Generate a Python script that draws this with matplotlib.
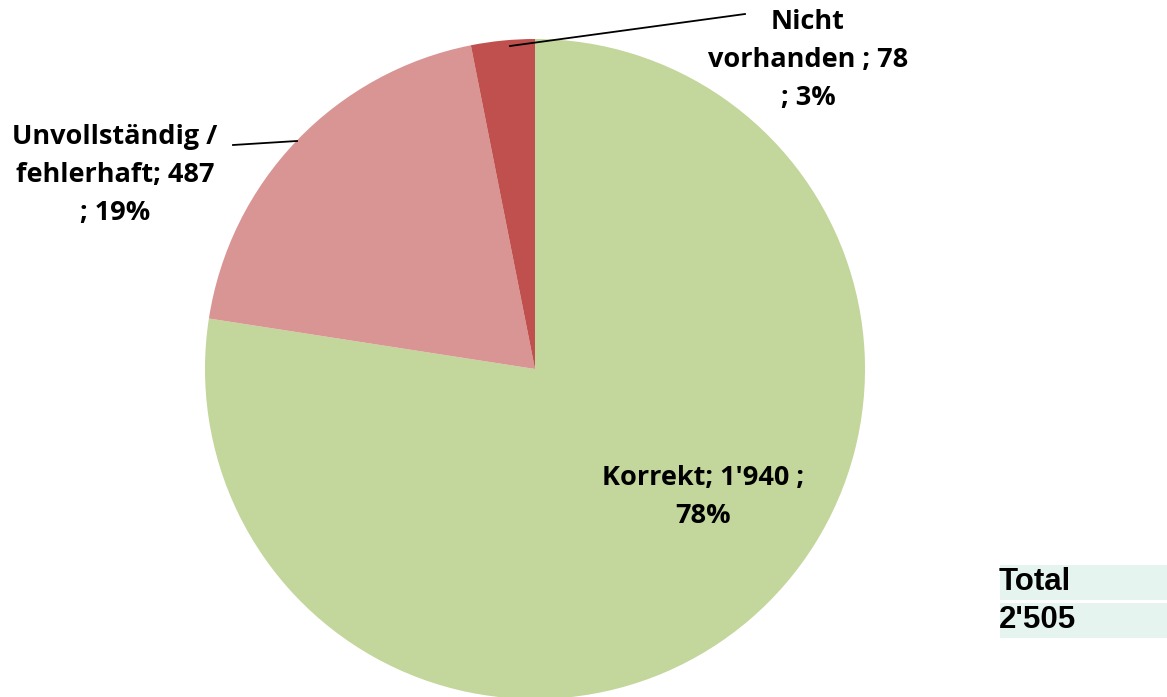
import matplotlib
matplotlib.use("Agg")
import matplotlib.pyplot as plt
from matplotlib.patches import Rectangle

# data
categories = ["Korrekt", "Unvollständig /\nfehlerhaft", "Nicht\nvorhanden "]
values = [1940, 487, 78]
percents = [78, 19, 3]
colors = ["#C3D69B", "#D99594", "#C0504D"]
total = 2505

W, H = 1167, 697
fig = plt.figure(figsize=(W / 100, H / 100), dpi=100)
ax = fig.add_axes([0, 0, 1, 1])

cx, cy, r = 535, H - 369, 330
ax.pie(values, colors=colors, startangle=90, counterclock=False,
       center=(cx, cy), radius=r, frame=True, wedgeprops=dict(linewidth=0))
ax.set_xlim(0, W)
ax.set_ylim(0, H)
ax.set_aspect("equal")
ax.axis("off")

def fmt(v):
    return f"{v:,}".replace(",", "'")

font = dict(family="Open Sans", fontweight="bold", fontsize=19.5, color="black",
            ha="center", va="center", linespacing=1.6)

ax.text(703, H - 497, f"{categories[0]}; {fmt(values[0])} ;\n{percents[0]}%", **font)
ax.text(115, H - 175, f"{categories[1]}; {fmt(values[1])}\n; {percents[1]}%", **font)
ax.text(808, H - 60, f"{categories[2]}; {fmt(values[2])}\n; {percents[2]}%", **font)

# leader lines
ax.plot([510, 745], [H - 46, H - 14], color="black", lw=1.3)
ax.plot([233, 297], [H - 145, H - 141], color="black", lw=1.3)

# total box
ax.add_patch(Rectangle((1000, H - 600), 170, 35, color="#E5F4EE", lw=0))
ax.add_patch(Rectangle((1000, H - 638), 170, 35, color="#E5F4EE", lw=0))
tfont = dict(family="Liberation Sans", fontweight="bold", fontsize=22.5,
             color="black", ha="left", va="center")
ax.text(999, H - 582, "Total", **tfont)
ax.text(999, H - 620, fmt(total), **tfont)

fig.savefig("out.png", dpi=100)
